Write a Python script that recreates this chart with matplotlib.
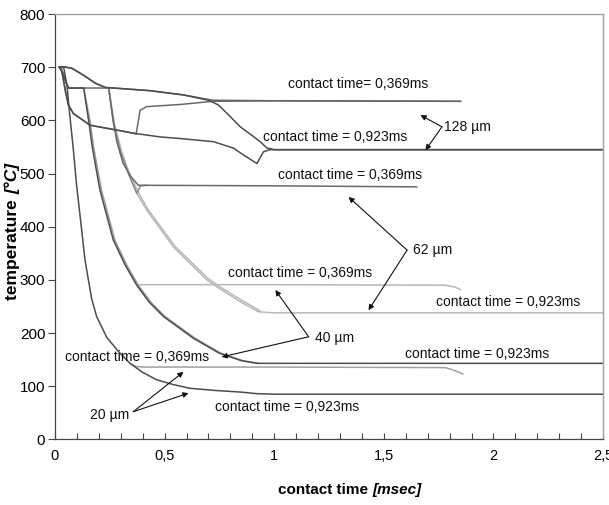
import os
import matplotlib
matplotlib.use("Agg")
import matplotlib.pyplot as plt
from matplotlib import font_manager

# a narrow Arial-like face if one is installed, otherwise plain Liberation Sans
def find_file(basenames):
    for f in font_manager.fontManager.ttflist:
        if os.path.basename(f.fname) in basenames:
            return f.fname
    return None

narrow_file = find_file(["LiberationSansNarrow-Regular.ttf"])
if narrow_file:
    font_manager.fontManager.addfont(narrow_file)
    NARROW = font_manager.FontProperties(fname=narrow_file).get_name()
    SZ_TXT, SZ_XT, SZ_YT = 12, 12, 13
else:
    NARROW = "Liberation Sans"
    SZ_TXT, SZ_XT, SZ_YT = 10, 10.5, 11
REGULAR = "Liberation Sans"

# ---- data (x in msec, y in degC) ----
# 128 um
c128_369_top_x = [0.02, 0.04, 0.078, 0.138, 0.184, 0.23, 0.30, 0.434, 0.586, 0.72, 1.0, 1.85]
c128_369_top_y = [700, 701, 698, 683, 670, 662, 660, 656, 648, 638, 637, 636]
c128_923_top_x = [0.02, 0.04, 0.078, 0.138, 0.184, 0.23, 0.30, 0.434, 0.586, 0.70, 0.746,
                  0.8, 0.845, 0.898, 0.936, 0.967, 1.0, 2.5]
c128_923_top_y = [700, 701, 698, 683, 670, 662, 660, 656, 648, 638, 629,
                  607, 588, 572, 560, 548, 545, 545]
c128_369_low_x = [0.02, 0.03, 0.05, 0.061, 0.084, 0.16, 0.28, 0.358, 0.37, 0.388, 0.419,
                  0.571, 0.72, 1.0, 1.85]
c128_369_low_y = [700, 695, 650, 629, 613, 591, 582, 576, 574, 619, 626,
                  630, 636, 637, 636]
c128_923_low_x = [0.02, 0.03, 0.05, 0.061, 0.084, 0.16, 0.28, 0.358, 0.479, 0.571, 0.723,
                  0.814, 0.86, 0.921, 0.951, 0.98, 1.0, 2.5]
c128_923_low_y = [700, 695, 650, 629, 613, 591, 582, 576, 569, 566, 560,
                  548, 535, 519, 541, 545, 545, 545]

# 62 um
c62_369_dark_x = [0.02, 0.035, 0.05, 0.062, 0.245, 0.262, 0.282, 0.31, 0.345, 0.38, 1.0, 1.65]
c62_369_dark_y = [700, 690, 672, 661, 661, 610, 560, 520, 495, 478, 477, 475]
c62_369_light_x = [0.245, 0.268, 0.30, 0.335, 0.373, 0.39, 0.42]
c62_369_light_y = [661, 592, 540, 500, 463, 477, 478]
c62_923_a_x = [0.245, 0.268, 0.30, 0.335, 0.373, 0.419, 0.54, 0.693, 0.738, 0.845, 0.928, 1.0, 2.5]
c62_923_a_y = [661, 592, 540, 500, 463, 431, 362, 300, 287, 259, 240, 238, 238]
c62_923_b_x = [0.245, 0.272, 0.305, 0.34, 0.38, 0.425, 0.548, 0.70, 0.745, 0.85, 0.935]
c62_923_b_y = [661, 592, 540, 500, 465, 432, 363, 302, 289, 262, 242]

# 40 um
c40_923_x = [0.02, 0.035, 0.05, 0.062, 0.131, 0.154, 0.17, 0.205, 0.266, 0.32, 0.373, 0.43,
             0.495, 0.632, 0.75, 0.85, 0.921, 1.0, 2.5]
c40_923_y = [700, 690, 672, 661, 661, 598, 550, 469, 375, 328, 290, 258,
             231, 190, 162, 148, 143, 143, 143]
c40_923_b_x = [0.131, 0.16, 0.176, 0.212, 0.273, 0.327, 0.38, 0.437, 0.502, 0.64, 0.757, 0.857, 0.93]
c40_923_b_y = [661, 598, 550, 469, 375, 328, 290, 258, 231, 190, 162, 148, 143]
c40_369_x = [0.373, 1.0, 1.78, 1.82, 1.85]
c40_369_y = [291, 291, 290, 287, 282]

# 20 um
c20_923_x = [0.02, 0.04, 0.055, 0.065, 0.075, 0.084, 0.098, 0.114, 0.137, 0.167, 0.19, 0.236,
             0.29, 0.342, 0.40, 0.464, 0.54, 0.616, 0.73, 0.845, 0.92, 1.0, 2.5]
c20_923_y = [700, 699, 665, 620, 580, 544, 480, 422, 337, 265, 231, 192,
             165, 143, 126, 112, 103, 96, 92, 89, 86, 85, 85]
c20_369_x = [0.342, 0.369, 0.40, 1.0, 1.78, 1.82, 1.86]
c20_369_y = [143, 137, 136, 136, 135, 130, 123]

# annotations
ct_text = ["contact time= 0,369ms", "contact time = 0,923ms", "contact time = 0,369ms",
           "contact time = 0,369ms", "contact time = 0,923ms", "contact time = 0,923ms",
           "contact time = 0,369ms", "contact time = 0,923ms"]
ct_x = [1.064, 0.95, 1.018, 0.79, 1.738, 1.598, 0.046, 0.73]
ct_y = [668, 569, 497, 313, 259, 160, 155, 61]

th_text = ["128 µm", "62 µm", "40 µm", "20 µm"]
th_x = [1.775, 1.635, 1.187, 0.16]
th_y = [588, 356, 190, 46]

arr_tail_x = [1.765, 1.765, 1.606, 1.606, 1.157, 1.157, 0.357, 0.357]
arr_tail_y = [588, 588, 356, 356, 193, 193, 52, 52]
arr_head_x = [1.667, 1.69, 1.339, 1.43, 1.005, 0.76, 0.586, 0.609]
arr_head_y = [610, 544, 456, 243, 281, 155, 127, 87]

x_ticks = [0, 0.5, 1, 1.5, 2, 2.5]
x_tick_labels = ["0", "0,5", "1", "1,5", "2", "2,5"]
y_ticks = [0, 100, 200, 300, 400, 500, 600, 700, 800]

DARK = "#4d4d4d"
MID = "#8a8a8a"
LIGHT = "#b8b8b8"

fig = plt.figure(figsize=(6.09, 5.05), dpi=100)
ax = fig.add_axes([0.0903, 0.130, 0.900, 0.842])

lw = 1.1
# light lines first, dark ones on top
ax.plot(c62_923_b_x, c62_923_b_y, color=LIGHT, lw=lw)
ax.plot(c62_923_a_x, c62_923_a_y, color=LIGHT, lw=lw)
ax.plot(c40_369_x, c40_369_y, color=LIGHT, lw=lw)
ax.plot(c20_369_x, c20_369_y, color="#a0a0a0", lw=lw)
ax.plot(c40_923_b_x, c40_923_b_y, color="#9a9a9a", lw=lw)
ax.plot(c62_369_light_x, c62_369_light_y, color=MID, lw=lw)
ax.plot(c62_369_dark_x, c62_369_dark_y, color="#6a6a6a", lw=lw)
ax.plot(c128_369_low_x, c128_369_low_y, color="#6a6a6a", lw=lw)
ax.plot(c128_369_top_x, c128_369_top_y, color="#666666", lw=lw)
ax.plot(c128_923_low_x, c128_923_low_y, color=DARK, lw=lw)
ax.plot(c128_923_top_x, c128_923_top_y, color=DARK, lw=lw)
ax.plot(c40_923_x, c40_923_y, color=DARK, lw=lw)
ax.plot(c20_923_x, c20_923_y, color=DARK, lw=lw)

for t, x, y in zip(ct_text, ct_x, ct_y):
    ax.text(x, y, t, family=NARROW, fontsize=SZ_TXT, ha="left", va="center", color="#111111")
for t, x, y in zip(th_text, th_x, th_y):
    ax.text(x, y, t, family=NARROW, fontsize=SZ_TXT, ha="left", va="center", color="#111111")
for tx, ty, hx, hy in zip(arr_tail_x, arr_tail_y, arr_head_x, arr_head_y):
    ax.annotate("", xy=(hx, hy), xytext=(tx, ty),
                arrowprops=dict(arrowstyle="-|>", color="#111111", lw=0.8,
                                mutation_scale=8, shrinkA=0, shrinkB=0))

ax.set_xlim(0, 2.5)
ax.set_ylim(0, 800)
ax.set_xticks(x_ticks)
ax.set_xticklabels(x_tick_labels, family=NARROW, fontsize=SZ_XT)
ax.set_xticks([i / 10 for i in range(26)], minor=True)
ax.set_yticks(y_ticks)
ax.set_yticklabels([str(v) for v in y_ticks], family=NARROW, fontsize=SZ_YT)
ax.tick_params(axis="x", which="both", direction="in", length=4, width=0.8,
               color="#444444", pad=7)
ax.tick_params(axis="y", direction="out", length=5, width=0.8, color="#444444", pad=2)

for s in ("left", "bottom"):
    ax.spines[s].set_color("#444444")
    ax.spines[s].set_linewidth(0.9)
for s in ("top", "right"):
    ax.spines[s].set_color("#a0a0a0")
    ax.spines[s].set_linewidth(1.0)

# axis titles: bold + bold italic part
split_x = 372 / 609
fig.text(split_x, 0.022, "contact time ", family=NARROW, fontsize=SZ_TXT + 1,
         weight="bold", ha="right", va="baseline")
fig.text(split_x, 0.022, "[msec]", family=NARROW, fontsize=SZ_TXT + 1,
         weight="bold", style="italic", ha="left", va="baseline")
split_y = 1 - 194 / 505
fig.text(0.020, split_y, "temperature ", family=REGULAR, fontsize=12.5, weight="bold",
         rotation=90, ha="center", va="top")
fig.text(0.020, split_y, "[°C]", family=REGULAR, fontsize=12.5, weight="bold",
         style="italic", rotation=90, ha="center", va="bottom")

fig.savefig("out.png", dpi=100)
